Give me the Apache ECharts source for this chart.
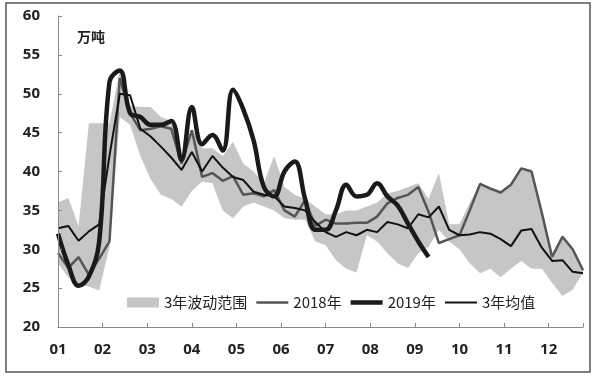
<!DOCTYPE html>
<html>
<head>
<meta charset="utf-8">
<script src="https://cdn.jsdelivr.net/npm/echarts@6/dist/echarts.min.js"></script>
<style>
  html, body { margin: 0; padding: 0; background: #fff; }
  #chart { width: 600px; height: 378px; }
</style>
</head>
<body>
<div id="chart"></div>
<script>
// weekly data, 52 weeks
const monthLabels = ['01', '02', '03', '04', '05', '06', '07', '08', '09', '10', '11', '12'];
const yTicks = [20, 25, 30, 35, 40, 45, 50, 55, 60];

const bandLow = [28.2, 26.4, 25.4, 25.2, 24.7, 30.3, 47, 46, 42, 39, 37, 36.5, 35.5, 37.5, 38.7, 38.5, 35, 34, 35.5, 36, 35.5, 35, 34, 33.8, 33.8, 31, 30.5, 28.6, 27.5, 27, 31.8, 31, 29.5, 28.2, 27.6, 29.5, 30.3, 32.5, 31, 30, 28.2, 26.9, 27.5, 26.4, 27.5, 28.5, 27.5, 27.5, 25.7, 24, 24.8, 27];
const bandHigh = [36, 36.6, 33, 46.2, 46.2, 46.2, 53, 48.5, 48.3, 48.3, 47, 46.5, 42, 45.5, 43, 43, 42, 43.8, 41, 40, 38.5, 42, 38, 37, 36.5, 35.5, 34.5, 34.5, 35, 35, 35.5, 36, 37.2, 37.5, 38, 38.5, 36.5, 39.8, 33.2, 33.2, 36, 38.5, 38, 37.5, 38.5, 40.5, 40.2, 35, 29.5, 31.8, 30.2, 27.5];
const y2018 = [29.5, 27.6, 29, 26.7, 28.8, 31, 52, 47.5, 45.3, 45.5, 45.8, 45.5, 41, 45.3, 39.3, 39.8, 38.8, 39.4, 37, 37.2, 36.8, 37.6, 35, 34.2, 36.3, 33, 33.8, 33.3, 33.3, 33.4, 33.4, 34.2, 35.9, 36.6, 37, 38, 34.8, 30.8, 31.3, 31.8, 35, 38.4, 37.8, 37.3, 38.3, 40.4, 40, 34.7, 29, 31.6, 30, 27.3];
const y2019 = [32, 28, 25.3, 26.5, 31, 51.5, 53, 47.5, 47, 46, 46, 46.5, 41.5, 48.3, 43.5, 44.7, 42.7, 50.5, 48, 44, 38, 36.8, 40, 41.3, 36.5, 32.5, 32.5, 35, 38.3, 36.8, 37, 38.5, 36.8, 35.6, 33.3, 31, 29];
const yMean = [32.7, 33, 31.1, 32.3, 33.2, 42, 50, 49.8, 45.5, 44.5, 43.2, 41.8, 40.2, 42.5, 40, 42, 40.5, 39.3, 38.9, 37.4, 37, 36.8, 35.5, 35.3, 35, 33.5, 32.2, 31.6, 32.2, 31.8, 32.5, 32.2, 33.5, 33.2, 32.7, 34.5, 34.1, 35.5, 32.5, 31.8, 31.9, 32.2, 32, 31.3, 30.4, 32.4, 32.6, 30.2, 28.5, 28.6, 27.1, 26.9];

const weeks = bandLow.map((v, i) => 'W' + (i + 1));
const weeksPerMonth = 52 / 12;

const chart = echarts.init(document.getElementById('chart'));
chart.setOption({
    animation: false,
    backgroundColor: '#fff',
    textStyle: { fontFamily: 'Noto Sans CJK SC' },
    graphic: [
        {
            type: 'rect',
            shape: { x: 6, y: 3, width: 584, height: 369 },
            style: { fill: 'none', stroke: '#555', lineWidth: 1.5 }
        },
        {
            type: 'text',
            left: 77,
            top: 30,
            style: { text: '万吨', fontSize: 14, fontWeight: 'bold', fill: '#222', fontFamily: 'Noto Sans CJK SC' }
        }
    ],
    legend: {
        left: 122,
        top: 290,
        itemWidth: 32,
        itemHeight: 10,
        itemGap: 9,
        textStyle: { fontSize: 15, color: '#222' },
        data: [
            { name: '3年波动范围', icon: 'rect', itemStyle: { color: '#c6c6c6' } },
            { name: '2018年', icon: 'path://M0,0H32V2.5H0Z', itemStyle: { color: '#555' } },
            { name: '2019年', icon: 'path://M0,0H32V4.5H0Z', itemStyle: { color: '#1a1a1a' } },
            { name: '3年均值', icon: 'path://M0,0H32V2H0Z', itemStyle: { color: '#111' } }
        ]
    },
    grid: { left: 58, right: 17, top: 16, bottom: 51 },
    xAxis: [
        {
            type: 'value',
            min: 0,
            max: 51,
            interval: weeksPerMonth,
            z: 5,
            axisLine: { lineStyle: { color: '#888', width: 1 } },
            axisTick: { inside: true, length: 4, lineStyle: { color: '#888' } },
            splitLine: { show: false },
            axisLabel: {
                margin: 15,
                fontSize: 15,
                color: '#222',
                fontWeight: 'bold',
                fontFamily: 'Open Sans',
                formatter: v => {
                    const m = v / weeksPerMonth;
                    if (Math.abs(m - Math.round(m)) > 0.01) return '';
                    return monthLabels[Math.round(m)] || '';
                }
            }
        },
        {
            type: 'category',
            data: weeks,
            boundaryGap: false,
            show: false
        }
    ],
    yAxis: {
        type: 'value',
        min: yTicks[0],
        max: yTicks[yTicks.length - 1],
        interval: 5,
        z: 5,
        axisLine: { show: true, lineStyle: { color: '#888', width: 1 } },
        axisTick: { show: true, inside: true, length: 4, lineStyle: { color: '#888' } },
        splitLine: { show: false },
        axisLabel: { margin: 18, fontSize: 15, color: '#222', fontWeight: 'bold', fontFamily: 'Open Sans' }
    },
    series: [
        {
            name: '下限',
            type: 'line',
            xAxisIndex: 1,
            stack: 'band',
            symbol: 'none',
            lineStyle: { opacity: 0 },
            data: bandLow
        },
        {
            name: '3年波动范围',
            type: 'line',
            xAxisIndex: 1,
            stack: 'band',
            symbol: 'none',
            lineStyle: { opacity: 0 },
            areaStyle: { color: '#c6c6c6', opacity: 1 },
            itemStyle: { color: '#c6c6c6' },
            data: bandHigh.map((v, i) => +(v - bandLow[i]).toFixed(2))
        },
        {
            name: '2018年',
            type: 'line',
            xAxisIndex: 1,
            symbol: 'none',
            itemStyle: { color: '#555' },
            lineStyle: { color: '#555', width: 2.5 },
            data: y2018
        },
        {
            name: '3年均值',
            type: 'line',
            xAxisIndex: 1,
            symbol: 'none',
            itemStyle: { color: '#111' },
            lineStyle: { color: '#111', width: 2 },
            data: yMean
        },
        {
            name: '2019年',
            type: 'line',
            xAxisIndex: 1,
            symbol: 'none',
            smooth: 0.4,
            itemStyle: { color: '#1a1a1a' },
            lineStyle: { color: '#1a1a1a', width: 4.5 },
            data: y2019
        }
    ]
});
</script>
</body>
</html>
